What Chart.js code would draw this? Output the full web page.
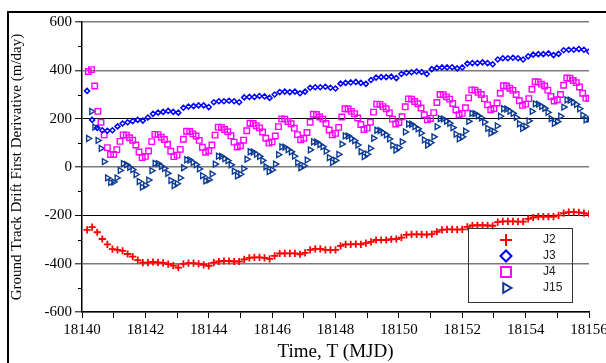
<!DOCTYPE html>
<html>
<head>
<meta charset="utf-8">
<script src="https://cdn.jsdelivr.net/npm/chart.js@4.4.0/dist/chart.umd.min.js"></script>
<style>
  html, body { margin: 0; padding: 0; background: #fff; }
  #wrap { position: relative; width: 606px; height: 363px; overflow: hidden; }
  #frame { position: absolute; left: 7px; top: 11px; width: 700px; height: 400px;
           border-left: 2px solid #000; border-top: 2px solid #000; }
  canvas { position: absolute; left: 0; top: 0; }
</style>
</head>
<body>
<div id="wrap"><div id="frame"></div><canvas id="c" width="606" height="363"></canvas></div>
<script>
// sampling of the series (days, MJD)
const coarseStart = 18140.16, coarseStep = 0.16;   // J2, J3
const fineStart = 18140.2, fineStep = 0.1;         // J4, J15

const seriesNames = ['J2', 'J3', 'J4', 'J15'];

const j2 = [
  -260,-249,-270,-298,-320,-340,-343,-347,-360,-371,
  -385,-396,-396,-393,-395,-397,-402,-408,-416,-401,
  -398,-398,-401,-405,-409,-396,-391,-389,-389,-391,
  -391,-382,-376,-374,-374,-376,-380,-368,-358,-357,
  -357,-357,-361,-355,-343,-339,-339,-343,-343,-343,
  -326,-320,-320,-319,-320,-315,-310,-302,-302,-302,
  -299,-298,-292,-281,-279,-279,-279,-280,-278,-268,
  -260,-258,-258,-259,-258,-248,-242,-241,-241,-242,
  -243,-228,-225,-225,-225,-226,-226,-215,-209,-205,
  -205,-205,-205,-200,-191,-187,-187,-188,-191,-194
];

const j3 = [
  315,195,162,152,150,152,168,180,185,190,
  195,192,205,220,225,228,232,228,225,245,
  250,252,255,255,248,268,272,272,274,272,
  268,288,290,290,294,292,286,300,310,312,
  310,312,305,312,328,330,330,332,328,325,
  345,348,350,352,348,344,360,370,372,372,
  374,368,385,390,392,395,393,385,405,410,
  412,412,413,408,412,428,430,430,433,430,
  425,445,450,450,452,450,445,458,465,467,
  467,470,463,468,483,485,485,488,485,478
];

const j4 = [
  395,403,335,230,185,133,80,52,
  52,72,106,133,132,121,111,91,62,39,
  44,66,105,135,134,123,114,94,65,43,
  49,73,115,148,147,137,128,110,82,61,
  67,91,132,165,164,155,146,129,103,83,
  88,111,150,181,180,171,162,145,119,99,
  104,128,167,199,198,188,179,161,134,113,
  119,143,185,218,217,207,198,180,153,133,
  139,164,207,241,240,230,221,203,176,155,
  161,185,227,260,259,250,241,224,198,178,
  184,208,249,282,281,271,262,244,216,195,
  201,225,267,300,299,290,281,263,236,216,
  222,245,286,319,318,309,300,283,257,237,
  242,265,305,336,335,326,317,300,274,255,
  260,283,322,353,352,343,335,318,292,273,
  278,300,338,368,367,358,349,331,305,285,
  283
];

const j15 = [
  118,230,165,110,77,22,-45,-64,
  -62,-45,-14,14,10,-1,-11,-31,-60,-83,
  -76,-54,-15,15,14,3,-6,-26,-55,-77,
  -69,-45,-3,30,29,19,10,-8,-36,-57,
  -53,-29,12,45,44,35,26,9,-17,-37,
  -30,-7,32,63,62,53,44,27,1,-19,
  -12,12,51,83,82,72,63,45,18,-3,
  5,29,71,104,103,93,84,66,39,19,
  27,52,95,129,128,118,109,91,64,43,
  53,77,119,152,151,142,133,116,90,70,
  80,104,145,178,177,167,158,140,112,91,
  101,125,167,200,199,190,181,163,136,116,
  125,148,189,222,221,212,203,186,160,140,
  147,170,210,241,240,231,222,205,179,160,
  168,191,230,261,260,251,243,226,200,181,
  188,210,248,278,277,268,259,241,215,195,
  198
];

const xTickValues = [18140,18141,18142,18143,18144,18145,18146,18147,18148,
                     18149,18150,18151,18152,18153,18154,18155,18156];
const yTickValues = [-600,-400,-200,0,200,400,600];
const yMinorTicks = [-500,-300,-100,100,300,500];

const xTitle = 'Time, T (MJD)';
const yTitle = 'Ground Track Drift First Derivative (m/day)';

function toPoints(start, step, values) {
  return values.map((v, i) => ({ x: +(start + i * step).toFixed(3), y: v }));
}

const SERIF = "'Liberation Serif', 'Times New Roman', serif";
Chart.defaults.font.family = SERIF;
Chart.defaults.color = '#000';

const styles = [
  { pointStyle: 'cross',    radius: 3.6, borderWidth: 1.8, color: '#ff0000', rot: 0,  legR: 6 },
  { pointStyle: 'rectRot',  radius: 2.5, borderWidth: 1.5, color: '#0000ff', rot: 0,  legR: 5.5 },
  { pointStyle: 'rect',     radius: 3.9, borderWidth: 1.4, color: '#ff00ff', rot: 0,  legR: 7 },
  { pointStyle: 'triangle', radius: 3.4, borderWidth: 1.4, color: '#0b3a94', rot: 90, legR: 5.5 }
];

const seriesData = [
  toPoints(coarseStart, coarseStep, j2),
  toPoints(coarseStart, coarseStep, j3),
  toPoints(fineStart, fineStep, j4),
  toPoints(fineStart, fineStep, j15)
];

const boxLegend = {
  id: 'boxLegend',
  afterDraw(chart) {
    const ctx = chart.ctx;
    ctx.save();
    // minor y ticks
    const ys = chart.scales.y;
    ctx.strokeStyle = '#000';
    ctx.lineWidth = 1;
    yMinorTicks.forEach(v => {
      const py = Math.round(ys.getPixelForValue(v)) + 0.5;
      ctx.beginPath(); ctx.moveTo(78, py); ctx.lineTo(82, py); ctx.stroke();
    });
    // legend box
    ctx.strokeStyle = '#333';
    ctx.lineWidth = 1;
    ctx.strokeRect(468.5, 228.5, 104, 74);
    chart.data.datasets.forEach((ds, i) => {
      const st = styles[i];
      const y = 240 + i * 16;
      ctx.strokeStyle = st.color;
      ctx.fillStyle = 'rgba(0,0,0,0)';
      ctx.lineWidth = 2;
      Chart.helpers.drawPoint(ctx, { pointStyle: st.pointStyle, rotation: st.rot, radius: st.legR, borderWidth: 2 }, 506, y);
      ctx.fillStyle = '#222';
      ctx.font = "12px 'Liberation Sans', Arial, sans-serif";
      ctx.textBaseline = 'middle';
      ctx.textAlign = 'left';
      ctx.fillText(ds.label, 543, y);
    });
    ctx.restore();
  }
};

new Chart(document.getElementById('c'), {
  type: 'scatter',
  data: {
    datasets: seriesNames.map((name, i) => ({
      label: name,
      data: seriesData[i],
      showLine: false,
      pointStyle: styles[i].pointStyle,
      pointRadius: styles[i].radius,
      pointBorderWidth: styles[i].borderWidth,
      pointRotation: styles[i].rot,
      borderColor: styles[i].color,
      backgroundColor: 'rgba(0,0,0,0)',
      pointBackgroundColor: 'rgba(0,0,0,0)'
    }))
  },
  options: {
    responsive: false,
    animation: false,
    events: [],
    layout: { padding: { left: 0, right: 17, top: 22, bottom: 0 } },
    plugins: { legend: { display: false }, tooltip: { enabled: false } },
    scales: {
      x: {
        type: 'linear',
        min: 18140, max: 18156,
        afterBuildTicks: s => { s.ticks = xTickValues.map(v => ({ value: v })); },
        afterFit: s => { s.height = 51; s.paddingLeft = 0; s.paddingRight = 0; },
        ticks: {
          autoSkip: false, maxRotation: 0, padding: 3,
          font: { size: 15, family: SERIF },
          callback: v => (v % 2 === 0 ? String(v) : '')
        },
        grid: { drawOnChartArea: false, drawTicks: true, tickLength: 6, tickColor: '#000', tickWidth: 1 },
        border: { display: true, color: '#000', width: 1.5 },
        title: { display: true, text: xTitle, font: { size: 19, family: SERIF }, padding: { top: 0, bottom: 0 } }
      },
      y: {
        min: -600, max: 600,
        afterBuildTicks: s => { s.ticks = yTickValues.map(v => ({ value: v })); },
        afterFit: s => { s.width = 82; s.paddingTop = 0; s.paddingBottom = 0; },
        ticks: { padding: 3, font: { size: 15, family: SERIF }, callback: v => String(v) },
        grid: {
          color: c => (Math.abs(c.tick.value) === 200 ? '#000' : '#7a7a7a'),
          lineWidth: c => (Math.abs(c.tick.value) === 200 ? 1 : 1.6),
          drawTicks: true, tickLength: 7, tickColor: '#000', tickWidth: 1
        },
        border: { display: true, color: '#000', width: 1.5 },
        title: { display: true, text: yTitle, font: { size: 15, family: SERIF }, padding: { top: 8, bottom: 0 } }
      }
    }
  },
  plugins: [boxLegend]
});
</script>
</body>
</html>
